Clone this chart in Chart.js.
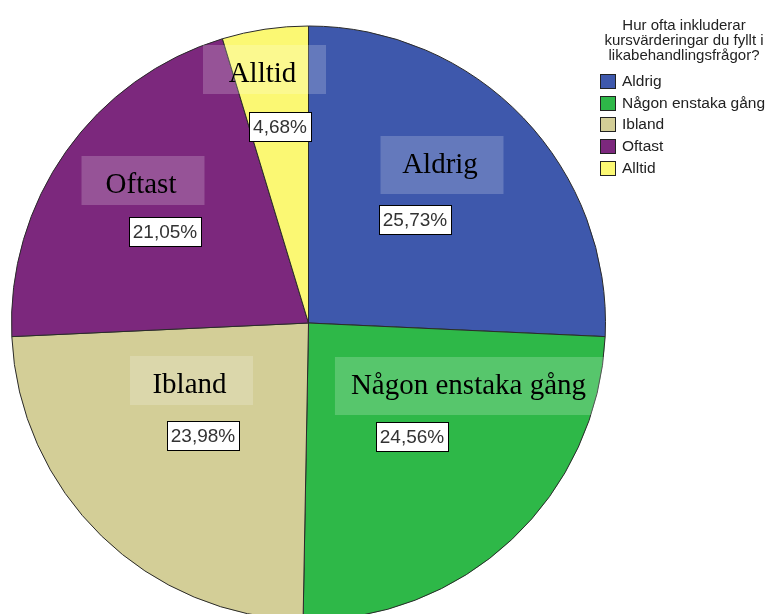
<!DOCTYPE html>
<html>
<head>
<meta charset="utf-8">
<script src="https://cdn.jsdelivr.net/npm/chart.js@4.4.0/dist/chart.umd.min.js"></script>
<style>
  html, body { margin: 0; padding: 0; background: #fff; overflow: hidden; }
  #wrap { width: 770px; height: 646px; }
</style>
</head>
<body>
<div id="wrap"><canvas id="pie" width="770" height="646"></canvas></div>
<script>
// --- DATA ---
const categories = ['Aldrig', 'Någon enstaka gång', 'Ibland', 'Oftast', 'Alltid'];
const percentages = [25.73, 24.56, 23.98, 21.05, 4.68];
const sliceColors = ['#3e58ac', '#2eb848', '#d3ce97', '#7c287d', '#fbf873'];
const legendTitle = ['Hur ofta inkluderar', 'kursvärderingar du fyllt i', 'likabehandlingsfrågor?'];

// label placement: offsets from pie centre (px)
const nameOffsets = [[131.5, -150], [160, 71], [-119, 70], [-167.5, -130], [-46, -241]];
const pctOffsets = [[106.5, -103], [103.5, 114], [-105.5, 112.5], [-143.5, -91], [-28.5, -196.5]];

const fmtPct = v => v.toFixed(2).replace('.', ',') + '%';

// --- PLUGINS ---
const sliceLabels = {
    id: 'sliceLabels',
    afterDatasetsDraw(chart) {
        const ctx = chart.ctx;
        const arc = chart.getDatasetMeta(0).data[0];
        const cx = arc.x, cy = arc.y;
        ctx.save();
        categories.forEach((name, i) => {
            // name label, serif on translucent box
            ctx.font = '29px "Liberation Serif", "Times New Roman", serif';
            const m = ctx.measureText(name);
            const tx = cx + nameOffsets[i][0], ty = cy + nameOffsets[i][1];
            const w = Math.max(123, m.width + 36);
            const top = ty - 37;
            const bottom = ty + (/[gjpqy]/.test(name) ? 21 : 12);
            ctx.fillStyle = 'rgba(255,255,255,0.2)';
            ctx.fillRect(tx + 2 - w / 2, top, w, bottom - top);
            ctx.fillStyle = '#000';
            ctx.textAlign = 'center';
            ctx.textBaseline = 'alphabetic';
            ctx.fillText(name, tx, ty);

            // percent label, white box
            ctx.font = '19px "Liberation Sans", Arial, sans-serif';
            const txt = fmtPct(percentages[i]);
            const pw = Math.round(ctx.measureText(txt).width + 8);
            const px = cx + pctOffsets[i][0], py = cy + pctOffsets[i][1];
            const bx = Math.round(px - pw / 2) + 0.5, by = Math.round(py - 15) + 0.5;
            ctx.fillStyle = '#fff';
            ctx.fillRect(bx, by, pw, 29);
            ctx.strokeStyle = '#000';
            ctx.lineWidth = 1;
            ctx.strokeRect(bx, by, pw, 29);
            ctx.fillStyle = '#333';
            ctx.textBaseline = 'middle';
            ctx.fillText(txt, px, py + 1);
        });
        ctx.restore();
    }
};

const sideLegend = {
    id: 'sideLegend',
    afterDraw(chart) {
        const ctx = chart.ctx;
        ctx.save();
        ctx.fillStyle = '#222';
        ctx.font = '15px "Liberation Sans", Arial, sans-serif';
        ctx.textAlign = 'center';
        ctx.textBaseline = 'alphabetic';
        legendTitle.forEach((line, i) => ctx.fillText(line, 684, 30 + i * 15));

        ctx.font = '15.5px "Liberation Sans", Arial, sans-serif';
        ctx.textAlign = 'left';
        ctx.textBaseline = 'middle';
        chart.data.labels.forEach((lab, i) => {
            const y = 74 + i * 21.7;
            ctx.fillStyle = chart.data.datasets[0].backgroundColor[i];
            ctx.fillRect(600.5, Math.round(y) + 0.5, 15, 14);
            ctx.strokeStyle = '#222';
            ctx.lineWidth = 1;
            ctx.strokeRect(600.5, Math.round(y) + 0.5, 15, 14);
            ctx.fillStyle = '#222';
            ctx.fillText(lab, 622, Math.round(y) + 8);
        });
        ctx.restore();
    }
};

// --- CHART ---
document.addEventListener('DOMContentLoaded', () => {
    const ctx = document.getElementById('pie').getContext('2d');
    new Chart(ctx, {
        type: 'pie',
        data: {
            labels: categories,
            datasets: [{
                data: percentages,
                backgroundColor: sliceColors,
                borderColor: '#2a2a2a',
                borderWidth: 1,
                radius: 297
            }]
        },
        options: {
            responsive: false,
            animation: false,
            devicePixelRatio: 1,
            layout: { padding: { left: 0, right: 153, top: 0, bottom: 0 } },
            plugins: {
                legend: { display: false },
                tooltip: { enabled: false }
            }
        },
        plugins: [sliceLabels, sideLegend]
    });
});
</script>
</body>
</html>
